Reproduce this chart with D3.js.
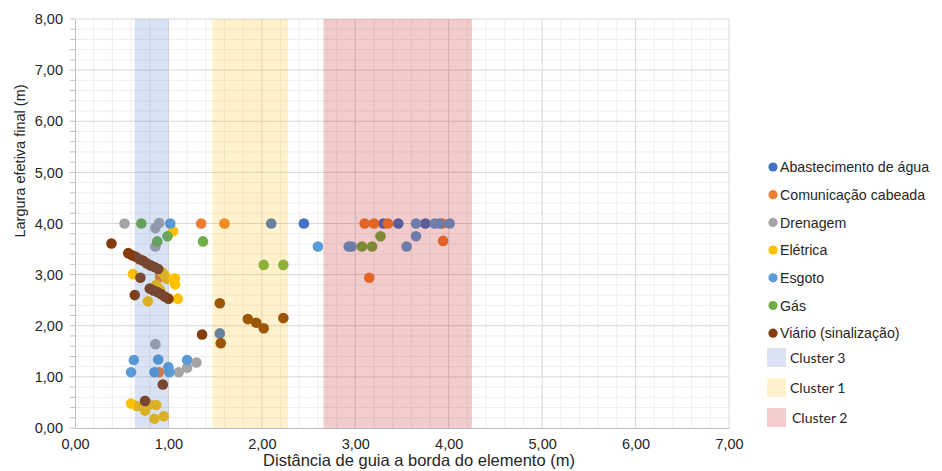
<!DOCTYPE html>
<html lang="pt">
<head>
<meta charset="UTF-8">
<title>Largura efetiva x distância</title>
<script src="https://d3js.org/d3.v7.min.js"></script>
<style>
  body { margin: 0; background: #fff; }
  svg { display: block; font-family: "Liberation Sans", Arial, sans-serif; }
</style>
</head>
<body>
<div id="chart"></div>
<script>
// series: [distance, width]
const abastecimento = [[2.10, 4.00], [2.45, 4.00], [1.55, 1.85], [3.30, 4.00], [3.46, 4.00], [3.75, 4.00]];
const comunicacao = [[1.35, 4.00], [1.60, 4.00], [3.10, 4.00], [3.20, 4.00], [3.35, 4.00], [3.93, 4.00],
  [3.94, 3.66], [3.15, 2.94], [0.91, 2.96], [0.90, 1.09]];
const drenagem = [[0.53, 4.00], [0.86, 3.91], [0.90, 4.01], [0.86, 3.55], [0.86, 1.64],
  [1.11, 1.09], [1.20, 1.18], [1.30, 1.28]];
const eletrica = [[1.05, 3.85], [0.62, 3.01], [0.93, 3.05], [0.96, 2.99], [0.98, 2.92], [1.07, 2.93],
  [1.07, 2.81], [0.87, 2.80], [0.91, 2.70], [0.78, 2.48], [1.10, 2.53],
  [0.60, 0.48], [0.66, 0.43], [0.75, 0.34], [0.80, 0.46], [0.87, 0.45], [0.85, 0.18], [0.95, 0.23]];
const esgoto = [[1.02, 4.00], [2.60, 3.55], [2.93, 3.55], [2.96, 3.55], [3.55, 3.55], [3.65, 3.75],
  [3.65, 4.00], [3.85, 4.00], [3.90, 4.00], [4.01, 4.00],
  [0.63, 1.33], [0.89, 1.34], [0.60, 1.09], [0.85, 1.09], [1.00, 1.19], [1.01, 1.09], [1.20, 1.33]];
const gas = [[0.71, 4.00], [0.99, 3.75], [0.88, 3.65], [1.37, 3.65], [2.02, 3.19], [2.23, 3.19],
  [3.07, 3.55], [3.18, 3.55], [3.27, 3.75]];
const viario = [[0.39, 3.61],
  [0.57, 3.42], [0.61, 3.38], [0.65, 3.35], [0.69, 3.30], [0.73, 3.27], [0.77, 3.22], [0.81, 3.18], [0.85, 3.15], [0.89, 3.11],
  [0.70, 2.94], [0.64, 2.60],
  [0.80, 2.73], [0.84, 2.69], [0.88, 2.66], [0.92, 2.62], [0.96, 2.57], [1.00, 2.53],
  [0.94, 0.85], [0.75, 0.53],
  [1.55, 2.44], [1.85, 2.13], [1.94, 2.06], [2.02, 1.95], [2.23, 2.15], [1.36, 1.83], [1.56, 1.66]];

const seriesNames = ["Abastecimento de água", "Comunicação cabeada", "Drenagem", "Elétrica", "Esgoto", "Gás", "Viário (sinalização)"];
const seriesData = [abastecimento, comunicacao, drenagem, eletrica, esgoto, gas, viario];
const seriesColors = ["#4472C4", "#ED7D31", "#A5A5A5", "#FFC000", "#5B9BD5", "#70AD47", "#843C0C"];

// cluster bands: [from, to]
const clusterNames = ["Cluster 3", "Cluster 1", "Cluster 2"];
const clusterRanges = [[0.64, 1.00], [1.47, 2.28], [2.66, 4.25]];
const clusterColors = ["#4472C4", "#FFC000", "#C00000"];

const xTicks = [0, 1, 2, 3, 4, 5, 6, 7];
const yTicks = [0, 1, 2, 3, 4, 5, 6, 7, 8];

const width = 942, height = 471;
const margin = { left: 75, top: 19, right: 213, bottom: 43 };

const svg = d3.select("#chart").append("svg")
  .attr("width", width).attr("height", height);

const x = d3.scaleLinear().domain([0, 7]).range([margin.left, width - margin.right]);
const y = d3.scaleLinear().domain([0, 8]).range([height - margin.bottom, margin.top]);
const fmt = d => d3.format(".2f")(d).replace(".", ",");

// minor grid
const minorX = d3.range(0, 7.001, 0.2).filter(v => Math.abs(v - Math.round(v)) > 0.01);
const minorY = d3.range(0, 8.001, 0.2).filter(v => Math.abs(v - Math.round(v)) > 0.01);
const grid = svg.append("g");
grid.selectAll(".mx").data(minorX).join("line")
  .attr("x1", d => x(d)).attr("x2", d => x(d)).attr("y1", y(0)).attr("y2", y(8))
  .attr("stroke", "#efefef").attr("stroke-width", 1);
grid.selectAll(".my").data(minorY).join("line")
  .attr("x1", x(0)).attr("x2", x(7)).attr("y1", d => y(d)).attr("y2", d => y(d))
  .attr("stroke", "#efefef").attr("stroke-width", 1);
grid.selectAll(".Mx").data(xTicks.slice(1)).join("line")
  .attr("x1", d => x(d)).attr("x2", d => x(d)).attr("y1", y(0)).attr("y2", y(8))
  .attr("stroke", "#d9d9d9").attr("stroke-width", 1);
grid.selectAll(".My").data(yTicks.slice(1)).join("line")
  .attr("x1", x(0)).attr("x2", x(7)).attr("y1", d => y(d)).attr("y2", d => y(d))
  .attr("stroke", "#d9d9d9").attr("stroke-width", 1);

// axes
const yAxis = svg.append("g").attr("transform", `translate(${x(0)},0)`)
  .call(d3.axisLeft(y).tickValues(yTicks).tickFormat(fmt).tickSize(0).tickPadding(12));
yAxis.select(".domain").attr("stroke", "#bfbfbf");
yAxis.selectAll("text").attr("font-size", 14.5).attr("fill", "#262626");
svg.append("g").selectAll("line").data(d3.range(0, 8.001, 0.2)).join("line")
  .attr("x1", x(0) - 5).attr("x2", x(0)).attr("y1", d => y(d)).attr("y2", d => y(d))
  .attr("stroke", "#bfbfbf");

const xAxis = svg.append("g").attr("transform", `translate(0,${y(0)})`)
  .call(d3.axisBottom(x).tickValues(xTicks).tickFormat(fmt).tickSize(0).tickPadding(11));
xAxis.select(".domain").attr("stroke", "#bfbfbf");
xAxis.selectAll("text").attr("font-size", 14.5).attr("fill", "#262626");

// points
seriesData.forEach((pts, i) => {
  svg.append("g").selectAll("circle").data(pts).join("circle")
    .attr("cx", d => x(d[0])).attr("cy", d => y(d[1])).attr("r", 5.3)
    .attr("fill", seriesColors[i]);
});

// cluster bands on top, translucent
svg.append("g").selectAll("rect").data(clusterRanges).join("rect")
  .attr("x", d => x(d[0])).attr("width", d => x(d[1]) - x(d[0]))
  .attr("y", y(8)).attr("height", y(0) - y(8))
  .attr("fill", (d, i) => clusterColors[i]).attr("fill-opacity", 0.2);

// axis titles
svg.append("text")
  .attr("transform", "translate(25,161) rotate(-90)")
  .attr("text-anchor", "middle").attr("font-size", 14.5).attr("fill", "#262626")
  .text("Largura efetiva final (m)");
svg.append("text")
  .attr("x", 419).attr("y", 466)
  .attr("text-anchor", "middle").attr("font-size", 16.5).attr("fill", "#262626")
  .text("Distância de guia a borda do elemento (m)");

// legend
const leg = svg.append("g");
seriesNames.forEach((name, i) => {
  const ly = 167 + i * 27.7;
  leg.append("circle").attr("cx", 773).attr("cy", ly).attr("r", 4.6).attr("fill", seriesColors[i]);
  leg.append("text").attr("x", 780).attr("y", ly + 5.2)
    .attr("font-size", 14.2).attr("fill", "#262626").text(name);
});
clusterNames.forEach((name, i) => {
  const ly = 348 + i * 30;
  leg.append("rect").attr("x", 767).attr("y", ly).attr("width", 19).attr("height", 19)
    .attr("fill", clusterColors[i]).attr("fill-opacity", 0.2);
  leg.append("text").attr("x", i === 2 ? 792 : 790).attr("y", ly + 15)
    .attr("font-family", "Lato, 'Open Sans', sans-serif")
    .attr("font-size", 14).attr("fill", "#262626").text(name);
});
</script>
</body>
</html>
